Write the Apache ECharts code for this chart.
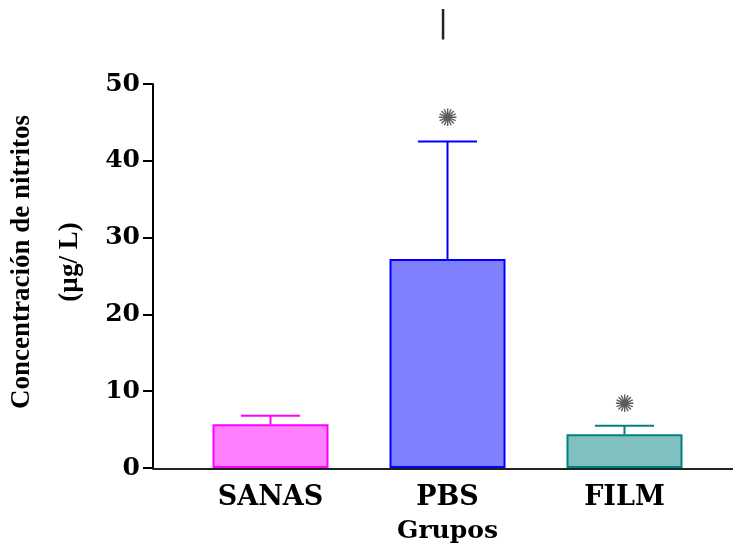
<!DOCTYPE html>
<html>
<head>
<meta charset="utf-8">
<script src="https://cdn.jsdelivr.net/npm/echarts@6/dist/echarts.min.js"></script>
<style>html,body{margin:0;padding:0;background:#fff}#c{width:733px;height:548px}</style>
</head>
<body>
<div id="c"></div>
<script>
var categories = ['SANAS', 'PBS', 'FILM'];
var meanValues = [5.7, 27.2, 4.4];
var errorTops = [6.8, 42.5, 5.5];
var significance = [null, 45.3, 8.1];
var yMin = 0, yMax = 50, yStep = 10;
var fillColors = ['#ff80ff', '#8080ff', '#80c0c0'];
var edgeColors = ['#ff00ff', '#0000ff', '#008080'];

var serif = 'DejaVu Serif';
var chart = echarts.init(document.getElementById('c'));
chart.setOption({
  animation: false,
  backgroundColor: '#fff',
  title: {
    text: '|', left: 433, top: 4,
    textStyle: { fontFamily: 'DejaVu Sans', fontSize: 30, fontWeight: 'normal', color: '#222' }
  },
  grid: [
    { left: 182, right: 20, top: 84, bottom: 80, containLabel: false, outerBoundsMode: 'none' },
    { left: 153, right: 0, top: 84, bottom: 79, containLabel: false, outerBoundsMode: 'none' }
  ],
  xAxis: [
    {
      type: 'category', data: categories, gridIndex: 0,
      axisLine: { show: false }, axisTick: { show: false },
      axisLabel: { margin: 16, fontFamily: serif, fontWeight: 'bold', fontSize: 27, color: '#000' },
      name: 'Grupos', nameLocation: 'middle', nameGap: 51,
      nameTextStyle: { fontFamily: serif, fontWeight: 'bold', fontSize: 25, color: '#000' }
    },
    {
      type: 'value', gridIndex: 1, min: 0, max: 1,
      axisLine: { show: true, lineStyle: { color: '#222', width: 2 } },
      axisTick: { show: false }, axisLabel: { show: false }, splitLine: { show: false }
    }
  ],
  yAxis: [
    {
      type: 'value', gridIndex: 0, min: yMin, max: yMax, interval: yStep, offset: 29,
      axisLine: { show: true, lineStyle: { color: '#000', width: 2 } },
      axisTick: { show: true, length: 10, lineStyle: { color: '#000', width: 2 } },
      axisLabel: { margin: 13, fontFamily: serif, fontWeight: 'bold', fontSize: 25, color: '#000' },
      splitLine: { show: false },
      name: 'Concentración de nitritos\n(µg/ L)', nameLocation: 'middle', nameRotate: 90, nameGap: 43,
      nameTextStyle: { fontFamily: 'Liberation Serif', fontWeight: 'bold', fontSize: 27, lineHeight: 48, color: '#000', padding: [0, 0, 0, 28] }
    },
    { type: 'value', gridIndex: 1, show: false, min: 0, max: 1 }
  ],
  series: [
    {
      type: 'bar', xAxisIndex: 0, yAxisIndex: 0, barWidth: 116, z: 2,
      data: meanValues.map(function (v, i) {
        return { value: v, itemStyle: { color: fillColors[i], borderColor: edgeColors[i], borderWidth: 2 } };
      })
    },
    {
      type: 'custom', xAxisIndex: 0, yAxisIndex: 0, z: 3,
      data: meanValues.map(function (v, i) { return [i, v, errorTops[i]]; }),
      renderItem: function (params, api) {
        var i = api.value(0);
        var base = api.coord([i, api.value(1)]);
        var top = api.coord([i, api.value(2)]);
        var half = api.size([1, 0])[0] * 0.167;
        var st = { stroke: edgeColors[params.dataIndex], lineWidth: 2 };
        return { type: 'group', children: [
          { type: 'line', shape: { x1: base[0], y1: base[1], x2: top[0], y2: top[1] }, style: st },
          { type: 'line', shape: { x1: top[0] - half, y1: top[1], x2: top[0] + half, y2: top[1] }, style: st }
        ] };
      }
    },
    {
      type: 'scatter', xAxisIndex: 0, yAxisIndex: 0, symbolSize: 2, z: 4,
      itemStyle: { color: 'rgba(0,0,0,0)' },
      data: significance.map(function (v, i) { return [i, v == null ? '-' : v]; }),
      label: { show: true, position: 'inside', formatter: '✺', fontFamily: 'DejaVu Sans', fontSize: 24, color: '#333' }
    }
  ]
});
</script>
</body>
</html>
